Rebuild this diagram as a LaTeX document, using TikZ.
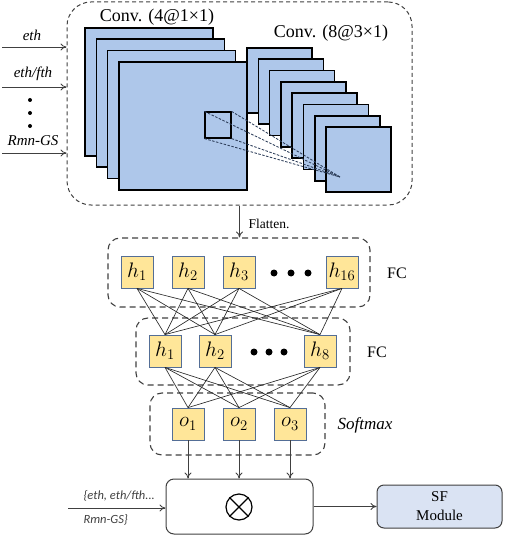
\RequirePackage{fix-cm}
\documentclass[tikz,border=0pt]{standalone}
\usepackage{fontspec}
\setmainfont{Liberation Serif}
\newfontfamily\carl{Carlito}
\usetikzlibrary{arrows.meta}
\definecolor{convblue}{RGB}{174,199,234}
\definecolor{nodeyel}{RGB}{255,230,153}
\definecolor{nodeedge}{RGB}{84,110,150}
\definecolor{sfblue}{RGB}{218,227,243}
\definecolor{dkgray}{RGB}{64,64,64}
\definecolor{linkgray}{RGB}{40,40,40}
\definecolor{guide}{RGB}{45,62,90}
\begin{document}
\begin{tikzpicture}[x=1pt,y=-1pt,
  convsq/.style={draw=black, line width=1.6pt, fill=convblue, inner sep=0pt, outer sep=0pt},
  grpbox/.style={draw=dkgray, dash pattern=on 6pt off 4pt, line width=1.1pt, rounded corners=12pt, inner sep=0pt},
  neuron/.style={draw=nodeedge, fill=nodeyel, line width=0.8pt, minimum size=32pt, inner sep=0pt, font=\fontsize{21}{24}\selectfont},
  link/.style={draw=linkgray, line width=0.65pt},
  arr/.style={-{To[length=6pt,width=7pt]}, line width=0.8pt, draw=dkgray},
  bigdot/.style={circle, fill=black, inner sep=0pt, minimum size=7pt},
  smalldot/.style={circle, fill=black, inner sep=0pt, minimum size=4pt},
  inlab/.style={font=\itshape\fontsize{15}{17}\selectfont},
  guideline/.style={draw=guide, dash pattern=on 2.5pt off 1.5pt, line width=0.85pt}
]
\useasboundingbox (0,0) rectangle (505,537);

% top dashed box
\node[draw=dkgray, dash pattern=on 4pt off 3pt, line width=1pt, rounded corners=24pt,
      minimum width=345pt, minimum height=203pt, inner sep=0pt] (topbox) at (239.5,103.5) {};

% conv (8@3x1) stack
\foreach \k in {0,...,7}{
  \node[convsq, minimum size=65pt] (c8\k) at ({279.5+11.3*\k},{80.5+11.3*\k}) {};
}
% conv (4@1x1) stack
\foreach \k in {0,...,3}{
  \node[convsq, minimum size=128pt] (c4\k) at ({149+11.3*\k},{92+11.3*\k}) {};
}
% kernel square
\node[draw=black, line width=1.2pt, minimum size=26pt, inner sep=0pt] (ker) at (218,125) {};
\coordinate (conv) at (340,177);
\draw[guideline] (ker.north west) -- (conv);
\draw[guideline] (ker.north east) -- (conv);
\draw[guideline] (ker.south west) -- (conv);
\draw[guideline] (ker.south east) -- (conv);

\node[font=\fontsize{18}{20}\selectfont] (c4lab) at (157,17) {Conv. (4@1×1)};
\node[font=\fontsize{18}{20}\selectfont] (c8lab) at (331,33) {Conv. (8@3×1)};

% inputs
\coordinate (in1) at (2,47);
\coordinate (in2) at (2,87);
\coordinate (in3) at (2,153);
\draw[arr] (in1) -- (in1 -| topbox.west);
\draw[arr] (in2) -- (in2 -| topbox.west);
\draw[arr] (in3) -- (in3 -| topbox.west);
\node[inlab] (l1) at (32,35) {eth};
\node[inlab] (l2) at (33,74) {eth/fth};
\node[inlab] (l3) at (33,141) {Rmn-GS};
\node[smalldot] (d1) at (30,100) {};
\node[smalldot] (d2) at (30,113) {};
\node[smalldot] (d3) at (30,126) {};

% FC1
\node[grpbox, minimum width=262pt, minimum height=69pt] (fc1box) at (239,272.5) {};
\node[neuron] (a1) at (137,272) {$h_1$};
\node[neuron] (a2) at (188,272) {$h_2$};
\node[neuron] (a3) at (239,272) {$h_3$};
\node[neuron] (a16) at (342,272) {$h_{16}$};
\node[bigdot] (ad1) at (274,273) {};
\node[bigdot] (ad2) at (291,273) {};
\node[bigdot] (ad3) at (308,273) {};
\node[font=\fontsize{16}{18}\selectfont] (fc1lab) at (397,273) {FC};

% flatten
\draw[arr] (topbox.south) -- (topbox.south |- fc1box.north);
\node[anchor=west, font=\fontsize{13.5}{15}\selectfont] (flat) at (245,224) {Flatten.};

% FC2
\node[grpbox, minimum width=214pt, minimum height=67pt] (fc2box) at (243,351.5) {};
\node[neuron] (b1) at (165,351) {$h_1$};
\node[neuron] (b2) at (215,351) {$h_2$};
\node[neuron] (b8) at (320,351) {$h_8$};
\node[bigdot] (bd1) at (254,352) {};
\node[bigdot] (bd2) at (269,352) {};
\node[bigdot] (bd3) at (284,352) {};
\node[font=\fontsize{16}{18}\selectfont] (fc2lab) at (377,352) {FC};

% Softmax
\node[grpbox, minimum width=175pt, minimum height=62pt] (smbox) at (237.5,424) {};
\node[neuron] (o1) at (188,424) {$o_1$};
\node[neuron] (o2) at (239,424) {$o_2$};
\node[neuron] (o3) at (290,424) {$o_3$};
\node[font=\itshape\fontsize{17}{19}\selectfont] (smlab) at (365,425) {Softmax};

% links
\foreach \a in {a1,a2,a3,a16}{
  \foreach \b in {b1,b2,b8}{
    \draw[link] (\a.south) -- (\b.north);
  }
}
\foreach \b in {b1,b2,b8}{
  \foreach \o in {o1,o2,o3}{
    \draw[link] (\b.south) -- (\o.north);
  }
}

% multiply box
\node[draw=dkgray, line width=1pt, rounded corners=8pt, minimum width=147pt, minimum height=55pt, inner sep=0pt] (mult) at (239.5,506.5) {};
\node[circle, draw=black, line width=1.2pt, minimum size=26pt, inner sep=0pt] (otimes) at (239,507) {};
\draw[line width=1.2pt] (otimes.north west) -- (otimes.south east);
\draw[line width=1.2pt] (otimes.north east) -- (otimes.south west);
\foreach \o in {o1,o2,o3}{
  \draw[arr] (\o.south) -- (\o.south |- mult.north);
}
\coordinate (minp) at (68,508);
\draw[arr] (minp) -- (minp -| mult.west);
\node[anchor=west, text=dkgray, font=\carl\itshape\fontsize{12.5}{14}\selectfont] (ml1) at (80,496) {\{eth, eth/fth...};
\node[anchor=west, text=dkgray, font=\carl\itshape\fontsize{12.5}{14}\selectfont] (ml2) at (80,520) {Rmn-GS\}};

% SF module
\node[draw=dkgray, fill=sfblue, rounded corners=7pt, line width=1pt, minimum width=125pt, minimum height=43pt, inner sep=0pt, align=center, font=\fontsize{15}{19}\selectfont] (sf) at (439.5,506.5) {SF\\Module};
\draw[arr] (mult.east) -- (sf.west);
\end{tikzpicture}
\end{document}
